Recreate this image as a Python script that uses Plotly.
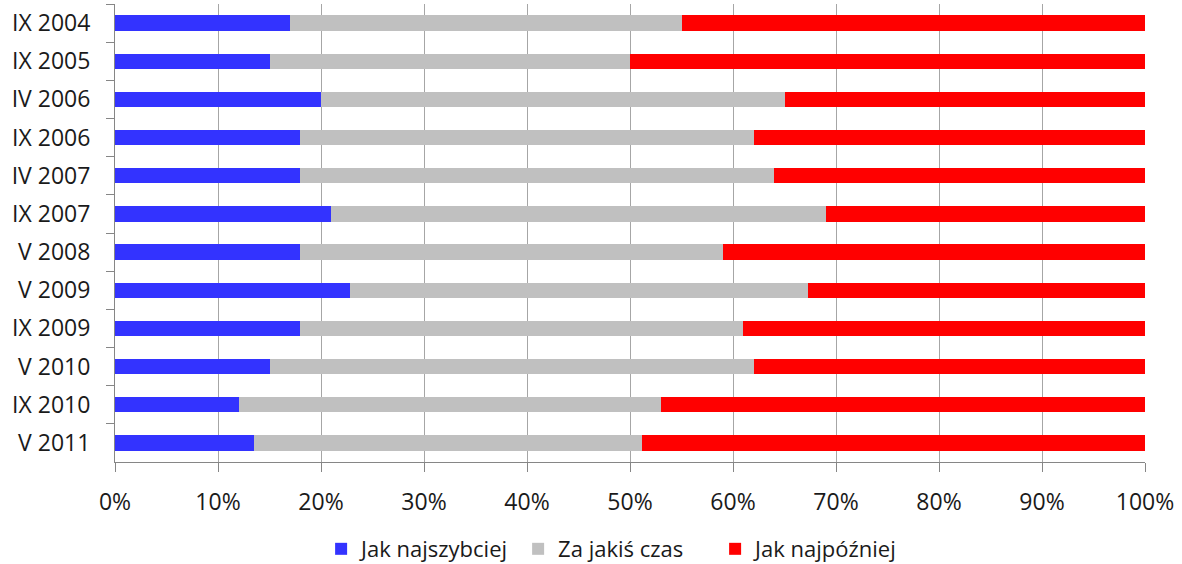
import plotly.graph_objects as go

# Survey waves (top to bottom)
waves = ["IX 2004", "IX 2005", "IV 2006", "IX 2006", "IV 2007", "IX 2007",
         "V 2008", "V 2009", "IX 2009", "V 2010", "IX 2010", "V 2011"]

# Share of answers (%)
jak_najszybciej = [17, 15, 20, 18, 18, 21, 18, 22.8, 18, 15, 12, 13.5]
za_jakis_czas = [38, 35, 45, 44, 46, 48, 41, 44.5, 43, 47, 41, 37.7]
jak_najpozniej = [45, 50, 35, 38, 36, 31, 41, 32.7, 39, 38, 47, 48.8]

x_ticks = [0, 10, 20, 30, 40, 50, 60, 70, 80, 90, 100]

series = [
    ("Jak najszybciej", jak_najszybciej, "#3333FF"),
    ("Za jakiś czas", za_jakis_czas, "#C0C0C0"),
    ("Jak najpóźniej", jak_najpozniej, "#FF0000"),
]

fig = go.Figure()
for name, vals, color in series:
    fig.add_trace(go.Bar(
        y=waves, x=vals, name=name, orientation="h",
        marker=dict(color=color, line=dict(width=0)),
    ))

font_family = "Open Sans, Noto Sans, DejaVu Sans, sans-serif"

fig.update_layout(
    barmode="stack",
    bargap=0.6,
    width=1182, height=564,
    margin=dict(l=115, r=37, t=4, b=102, autoexpand=False),
    paper_bgcolor="white", plot_bgcolor="white",
    font=dict(family=font_family, size=23, color="#1a1a1a"),
    showlegend=True,
    legend=dict(
        orientation="h", x=0.487, xanchor="center",
        y=-0.19, yanchor="middle",
        font=dict(size=22), traceorder="normal",
        itemwidth=30, entrywidth=152, entrywidthmode="pixels",
    ),
    xaxis=dict(
        range=[0, 100], tickvals=x_ticks,
        ticktext=[f"{v}%" for v in x_ticks],
        showgrid=True, gridcolor="#A6A6A6", gridwidth=1,
        showline=True, linecolor="#868686", linewidth=1,
        ticks="outside", ticklen=9, tickcolor="#868686",
        zeroline=False, ticklabelstandoff=10,
    ),
    yaxis=dict(
        categoryorder="array", categoryarray=waves, autorange="reversed",
        showline=True, linecolor="#868686", linewidth=1,
        ticks="outside", ticklen=8, tickcolor="#868686",
        tickson="boundaries", showgrid=False, ticklabelstandoff=19,
    ),
)

fig.write_html("out.html")
